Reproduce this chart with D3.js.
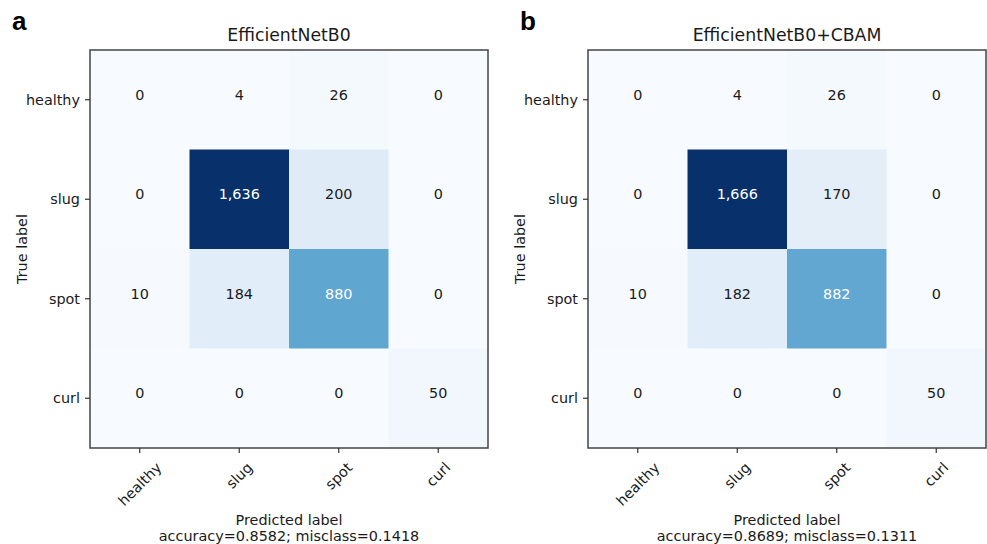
<!DOCTYPE html>
<html>
<head>
<meta charset="utf-8">
<script src="https://cdn.jsdelivr.net/npm/d3@7"></script>
<style>
  body { margin: 0; background: #fff; }
  text { font-family: "DejaVu Sans", sans-serif; fill: #1a1a1a; }
</style>
</head>
<body>
<svg id="chart" width="987" height="544"></svg>
<script>
const classes = ["healthy", "slug", "spot", "curl"];

// rows = true label, cols = predicted label
const cmEffNet = [
  [0, 4, 26, 0],
  [0, 1636, 200, 0],
  [10, 184, 880, 0],
  [0, 0, 0, 50],
];
const cmEffNetCbam = [
  [0, 4, 26, 0],
  [0, 1666, 170, 0],
  [10, 182, 882, 0],
  [0, 0, 0, 50],
];

const panelTitles = ["EfficientNetB0", "EfficientNetB0+CBAM"];
const panelLetters = ["a", "b"];

// matplotlib "Blues"
const bluesStops = ["#f7fbff", "#deebf7", "#c6dbef", "#9ecae1", "#6baed6",
  "#4292c6", "#2171b5", "#08519c", "#08306b"];

const svg = d3.select("#chart");
const size = 398;
const fontSize = 14.4;

const panels = [
  { cm: cmEffNet, left: 90, top: 50, letterX: 12 },
  { cm: cmEffNetCbam, left: 588, top: 50, letterX: 520 },
];

function drawMatrix(p, i) {
  const cm = p.cm;
  const g = svg.append("g").attr("transform", `translate(${p.left},${p.top})`);

  const x = d3.scaleBand().domain(classes).range([0, size]);
  const y = d3.scaleBand().domain(classes).range([0, size]);

  const maxVal = d3.max(cm.flat());
  const color = d3.scaleLinear()
    .domain(bluesStops.map((_, k) => (k / (bluesStops.length - 1)) * maxVal))
    .range(bluesStops);

  const cells = cm.flatMap((row, r) =>
    row.map((v, c) => ({ row: classes[r], col: classes[c], value: v })));

  g.selectAll("rect.cell")
    .data(cells)
    .join("rect")
    .attr("class", "cell")
    .attr("x", (d) => x(d.col))
    .attr("y", (d) => y(d.row))
    .attr("width", x.bandwidth() + 0.5)
    .attr("height", y.bandwidth() + 0.5)
    .attr("fill", (d) => color(d.value));

  const fmt = d3.format(",");
  g.selectAll("text.val")
    .data(cells)
    .join("text")
    .attr("class", "val")
    .attr("x", (d) => x(d.col) + x.bandwidth() / 2)
    .attr("y", (d) => y(d.row) + y.bandwidth() / 2)
    .attr("text-anchor", "middle")
    .style("font-size", fontSize + "px")
    .style("fill", (d) => (d.value > maxVal / 2 ? "#ffffff" : "#1a1a1a"))
    .text((d) => fmt(d.value));

  // frame
  g.append("rect")
    .attr("width", size)
    .attr("height", size)
    .attr("fill", "none")
    .attr("stroke", "#444")
    .attr("stroke-width", 1.5);

  // y axis
  const yAxis = g.append("g").call(d3.axisLeft(y).tickSize(5).tickPadding(5));
  yAxis.select(".domain").remove();
  yAxis.selectAll("line").attr("stroke", "#333").attr("stroke-width", 1.2);
  yAxis.selectAll("text")
    .style("font-size", fontSize + "px")
    .style("font-family", "DejaVu Sans")
    .attr("fill", "#1a1a1a")
    .attr("dy", "0.35em");

  // x axis, labels rotated 45 and centered on the tick
  const xAxis = g.append("g")
    .attr("transform", `translate(0,${size})`)
    .call(d3.axisBottom(x).tickSize(5));
  xAxis.select(".domain").remove();
  xAxis.selectAll("line").attr("stroke", "#333").attr("stroke-width", 1.2);
  const textH = fontSize * 1.16;
  xAxis.selectAll("text")
    .style("font-size", fontSize + "px")
    .style("font-family", "DejaVu Sans")
    .attr("fill", "#1a1a1a")
    .attr("text-anchor", "middle")
    .attr("y", 0)
    .attr("dy", "0.35em")
    .attr("transform", function () {
      const w = this.getComputedTextLength();
      const cy = 11 + (w + textH) / (2 * Math.SQRT2);
      return `translate(0,${cy}) rotate(-45)`;
    });

  // title
  g.append("text")
    .attr("x", size / 2)
    .attr("y", -9)
    .attr("text-anchor", "middle")
    .style("font-size", "17.3px")
    .text(panelTitles[i]);

  // axis labels
  g.append("text")
    .attr("transform", `translate(-68,${size / 2}) rotate(-90)`)
    .attr("text-anchor", "middle")
    .attr("dy", "0.35em")
    .style("font-size", fontSize + "px")
    .text("True label");

  const total = d3.sum(cm.flat());
  const correct = d3.sum(classes.map((_, k) => cm[k][k]));
  const acc = correct / total;
  const f4 = d3.format(".4f");

  const xl = g.append("text")
    .attr("x", size / 2)
    .attr("text-anchor", "middle")
    .style("font-size", fontSize + "px");
  xl.append("tspan").attr("x", size / 2).attr("y", 475).text("Predicted label");
  xl.append("tspan").attr("x", size / 2).attr("y", 491)
    .text(`accuracy=${f4(acc)}; misclass=${f4(1 - acc)}`);

  // panel letter
  svg.append("text")
    .attr("x", p.letterX)
    .attr("y", 30)
    .style("font-family", "'Liberation Sans', Arial, sans-serif")
    .style("font-weight", "bold")
    .style("font-size", "26px")
    .style("fill", "#000")
    .text(panelLetters[i]);
}

panels.forEach(drawMatrix);
</script>
</body>
</html>
